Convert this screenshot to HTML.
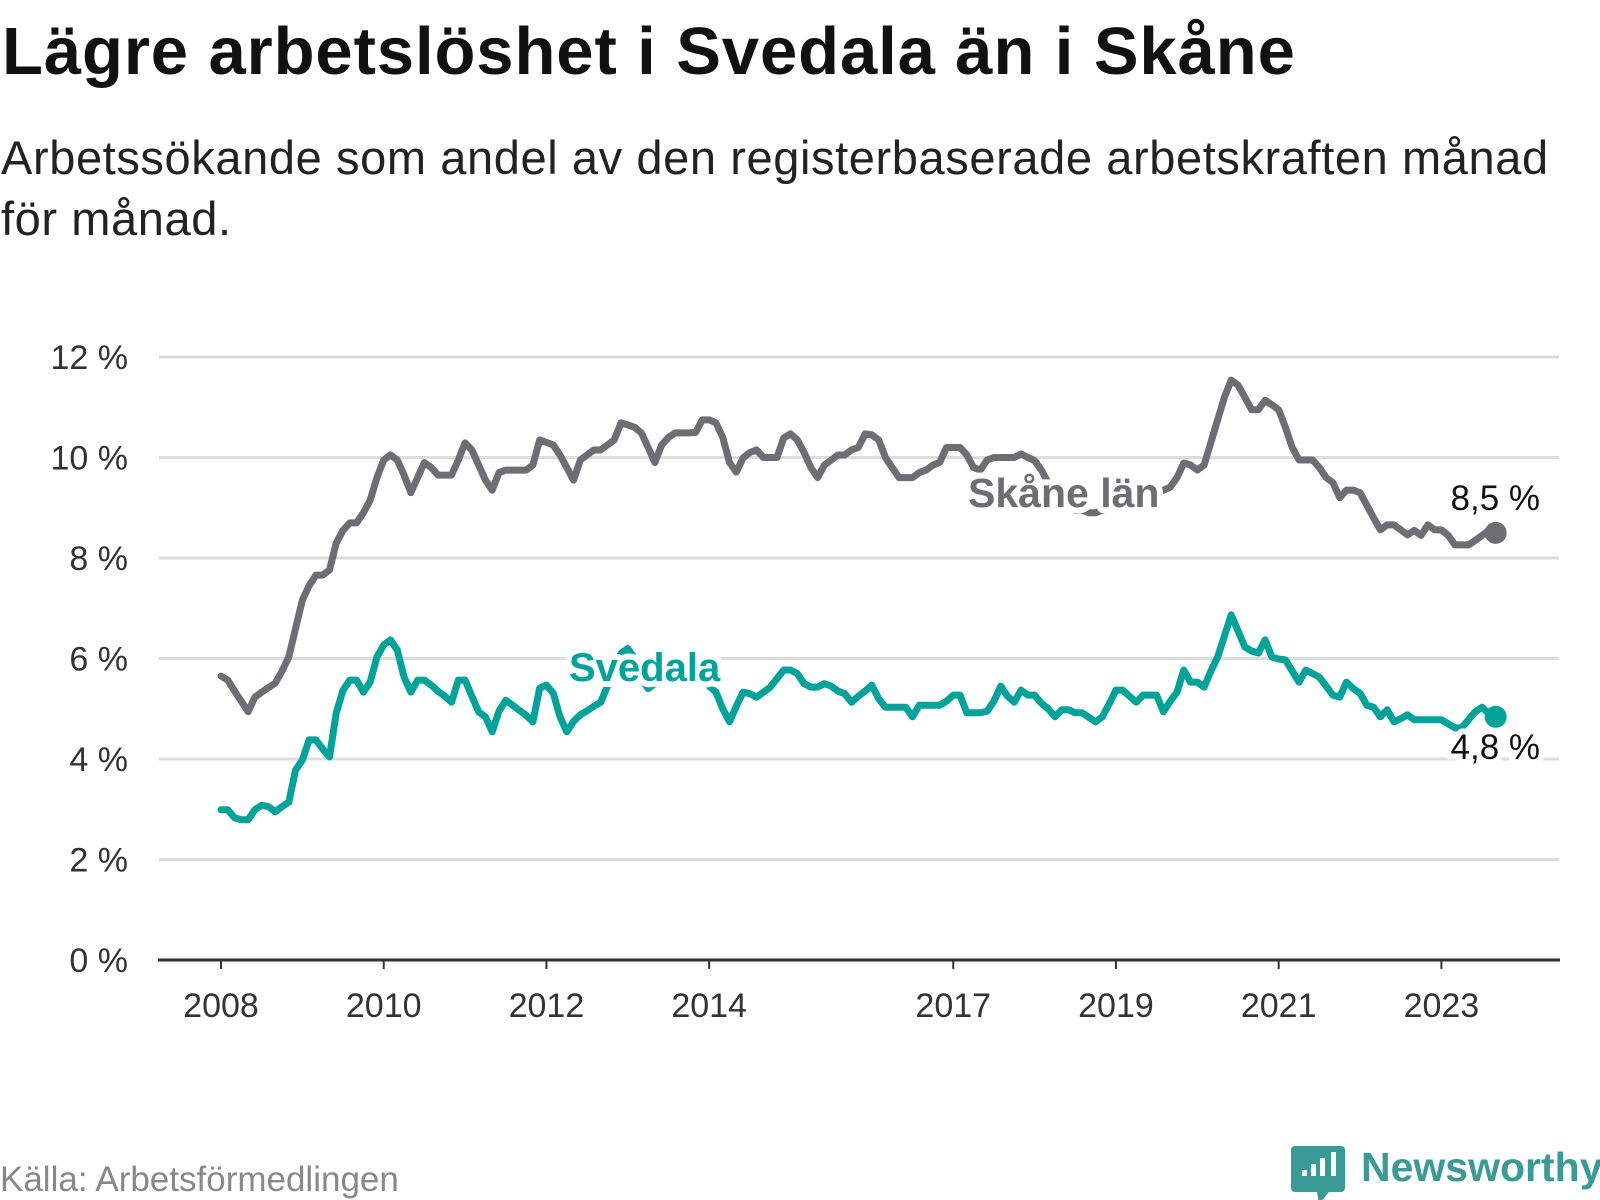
<!DOCTYPE html>
<html><head><meta charset="utf-8"><style>
body{margin:0;width:1600px;height:1200px;background:#fff;overflow:hidden;font-family:"Liberation Sans",sans-serif;}
#title{position:absolute;left:2px;top:13px;font-size:67px;font-weight:bold;color:#111;margin:0;white-space:nowrap;letter-spacing:0.9px;}
#sub{position:absolute;left:1px;top:127px;font-size:47px;line-height:61px;color:#222;margin:0;white-space:nowrap;letter-spacing:0.6px;}
svg{position:absolute;left:0;top:0;}
</style></head><body>
<h1 id="title">Lägre arbetslöshet i Svedala än i Skåne</h1>
<p id="sub">Arbetssökande som andel av den registerbaserade arbetskraften månad<br>för månad.</p>
<svg id="chart" width="1600" height="1200"></svg>
<script>
const yTicks=[0,2,4,6,8,10,12];
const xTickYears=[2008,2010,2012,2014,2017,2019,2021,2023];
const skane=[5.65,5.57,5.35,5.15,4.94,5.23,5.33,5.42,5.51,5.75,6.03,6.6,
7.16,7.45,7.66,7.66,7.76,8.3,8.55,8.7,8.7,8.9,9.15,9.6,
9.95,10.05,9.95,9.65,9.3,9.6,9.9,9.8,9.65,9.65,9.65,9.95,
10.29,10.15,9.85,9.55,9.35,9.7,9.75,9.75,9.75,9.75,9.85,10.35,
10.3,10.25,10.05,9.8,9.55,9.95,10.05,10.15,10.15,10.25,10.35,10.69,
10.65,10.6,10.49,10.2,9.9,10.25,10.4,10.49,10.49,10.49,10.5,10.75,
10.75,10.69,10.4,9.9,9.71,9.99,10.1,10.15,10.0,10.0,10.0,10.39,
10.47,10.35,10.1,9.8,9.6,9.85,9.95,10.05,10.05,10.15,10.2,10.47,
10.45,10.35,10.0,9.8,9.6,9.6,9.6,9.7,9.75,9.85,9.9,10.2,
10.2,10.2,10.05,9.8,9.75,9.95,10.0,10.0,10.0,10.0,10.07,10.0,
9.94,9.75,9.5,9.3,9.15,9.05,8.95,8.95,8.9,8.9,8.95,9.0,
9.0,9.05,9.1,9.1,9.15,9.2,9.3,9.35,9.41,9.6,9.89,9.85,
9.75,9.85,10.3,10.75,11.2,11.54,11.44,11.2,10.95,10.95,11.14,11.05,
10.95,10.6,10.2,9.95,9.95,9.95,9.8,9.6,9.5,9.2,9.35,9.35,
9.3,9.05,8.8,8.56,8.66,8.66,8.56,8.46,8.55,8.45,8.66,8.56,
8.56,8.45,8.26,8.26,8.26,8.35,8.45,8.55,8.5];
const svedala=[2.99,2.99,2.83,2.79,2.79,2.99,3.08,3.05,2.95,3.05,3.14,3.78,
3.98,4.38,4.38,4.2,4.04,4.92,5.37,5.57,5.57,5.33,5.53,6.03,
6.27,6.37,6.17,5.63,5.33,5.57,5.57,5.47,5.35,5.25,5.13,5.57,
5.57,5.25,4.94,4.84,4.54,4.95,5.17,5.07,4.97,4.87,4.74,5.41,
5.47,5.31,4.84,4.54,4.75,4.88,4.96,5.05,5.13,5.45,5.8,6.1,
6.2,6.0,5.6,5.4,5.5,5.5,5.6,5.6,5.6,5.6,5.6,5.6,
5.45,5.33,5.0,4.74,5.05,5.33,5.3,5.23,5.33,5.43,5.6,5.77,
5.77,5.7,5.5,5.43,5.43,5.5,5.45,5.35,5.3,5.13,5.25,5.35,
5.47,5.2,5.03,5.03,5.03,5.03,4.84,5.07,5.07,5.07,5.07,5.15,
5.27,5.27,4.92,4.92,4.92,4.95,5.15,5.45,5.25,5.13,5.37,5.27,
5.27,5.11,5.0,4.84,4.98,4.98,4.92,4.92,4.83,4.74,4.84,5.1,
5.37,5.37,5.25,5.13,5.27,5.27,5.27,4.94,5.15,5.33,5.77,5.53,
5.53,5.43,5.75,6.03,6.45,6.87,6.55,6.23,6.15,6.11,6.37,6.03,
5.99,5.97,5.75,5.53,5.77,5.7,5.63,5.45,5.27,5.23,5.53,5.4,
5.31,5.07,5.03,4.84,4.98,4.74,4.8,4.88,4.78,4.78,4.78,4.78,
4.78,4.7,4.62,4.62,4.78,4.94,5.03,4.9,4.84];
const endLabels=["8,5 %","4,8 %"];

const NS="http://www.w3.org/2000/svg";
const svg=document.getElementById('chart');
const X0=221, PXM=6.78, Y0=960, PXU=50.25;
const xs=m=>X0+m*PXM;
const ys=v=>Y0-v*PXU;
function mk(tag,attrs,parent){const e=document.createElementNS(NS,tag);for(const k in attrs)e.setAttribute(k,attrs[k]);(parent||svg).appendChild(e);return e;}
const font='"Liberation Sans", sans-serif';
yTicks.forEach(t=>{
  if(t>0){const g=mk('line',{x1:159,x2:1559,y1:ys(t),y2:ys(t),stroke:'#dcdcdc','stroke-width':3});
  
  }
  const l=mk('text',{x:128,y:ys(t)+12,'text-anchor':'end','font-size':34,fill:'#333','font-family':font});
  l.textContent=t+' %';
  
  
});
const ax=mk('line',{x1:158,x2:1560,y1:Y0,y2:Y0,stroke:'#333','stroke-width':3});


xTickYears.forEach(yr=>{
  const x=xs((yr-2008)*12);
  const t=mk('line',{x1:x,x2:x,y1:Y0,y2:Y0+9,stroke:'#333','stroke-width':2});
  
  
  const l=mk('text',{x:x,y:Y0+57,'text-anchor':'middle','font-size':34,fill:'#333','font-family':font});
  l.textContent=yr;
  
  
});
function series(data,color,name){
  const p=mk('polyline',{points:data.map((v,i)=>xs(i)+','+ys(v)).join(' '),fill:'none',stroke:color,'stroke-width':7,'stroke-linejoin':'round','stroke-linecap':'round'});
  
  
  const n=data.length-1;
  const c=mk('circle',{cx:xs(n),cy:ys(data[n]),r:11,fill:color});
  
  
}
series(skane,'#6e6d73','skane');
series(svedala,'#00a39a','svedala');
function label(txt,x,y,color,size,weight,name,anchor){
  const t=mk('text',{x:x,y:y,'font-size':size,'font-weight':weight,fill:color,stroke:'#fff','stroke-width':12,'paint-order':'stroke','stroke-linejoin':'round','font-family':font,'text-anchor':anchor||'start'});
  t.textContent=txt;
  
  
}
label('Skåne län',968,507,'#6e6d73',41,'bold','skane-series-label');
label('Svedala',569,681,'#00a39a',40,'bold','svedala-series-label');
label(endLabels[0],1540,510,'#111',35,'normal','skane-end-value','end');
label(endLabels[1],1540,759,'#111',35,'normal','svedala-end-value','end');
const src=mk('text',{x:0,y:1191,'font-size':35,fill:'#888','font-family':font});
src.textContent='Källa: Arbetsförmedlingen';


const g=mk('g',{});


mk('path',{d:'M1295 1146 h46 a4 4 0 0 1 4 4 v38 a4 4 0 0 1 -4 4 h-12 l-10 12 l-2 -12 h-22 a4 4 0 0 1 -4 -4 v-38 a4 4 0 0 1 4 -4z',fill:'#3a9a96'},g);
[[1302,1170,6],[1311,1164,12],[1320,1158,18],[1331,1152,24]].forEach(b=>mk('rect',{x:b[0],y:1176-b[2],width:5,height:b[2],fill:'#fff'},g));
const lt=mk('text',{x:1361,y:1181,'font-size':41,'font-weight':'bold',fill:'#3a9a96','font-family':font},g);
lt.textContent='Newsworthy';
</script>
</body></html>
